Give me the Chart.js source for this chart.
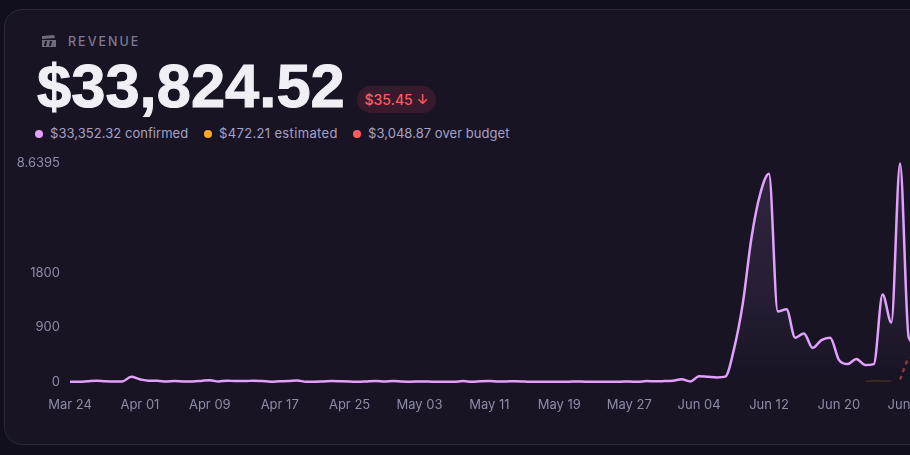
<!DOCTYPE html>
<html>
<head>
<meta charset="utf-8">
<title>Revenue</title>
<script src="https://cdn.jsdelivr.net/npm/chart.js@4/dist/chart.umd.min.js"></script>
<style>
  html, body { margin: 0; width: 910px; height: 455px; overflow: hidden; background: #110e1e; font-family: Inter, sans-serif; }
  .card { position: absolute; left: 4px; top: 9px; width: 1100px; height: 434px; background: #181424; border: 1px solid #2c2938; border-radius: 18px; }
  .title { position: absolute; left: 68px; top: 34px; font-size: 12.5px; font-weight: 500; letter-spacing: 2px; color: #7d7893; line-height: 16px; }
  .icon { position: absolute; left: 42px; top: 35px; }
  .total { position: absolute; left: 37px; top: 51px; font-family: "Liberation Sans", sans-serif; font-size: 61.5px; font-weight: 700; -webkit-text-stroke: 1px #f1eff6; line-height: 70px; color: #f1eff6; white-space: nowrap; }
  .badge { position: absolute; left: 357px; top: 86px; height: 27px; width: 79px; border-radius: 14px; background: #371a2b; color: #ff5a5f; font-size: 14px; font-weight: 500; line-height: 27px; text-align: center; white-space: nowrap; }
  .legend { position: absolute; top: 125px; font-size: 13px; line-height: 17px; color: #a5a1c4; white-space: nowrap; }
  .legend i { position: absolute; left: -15px; top: 5px; width: 8px; height: 8px; border-radius: 50%; }
  #chart { position: absolute; left: 16px; top: 150px; }
</style>
</head>
<body>
<div class="card"></div>
<svg class="icon" width="14" height="12" viewBox="0 0 14 12"><path fill="#6f6b7c" d="M0 5h14v7H0zM0 1l12-1 1 3-13 1z"/><path fill="#181424" d="M3 6l2 0-1 5-2 0zM8 6l2 0-1 5-2 0z"/></svg>
<div class="title">REVENUE</div>
<div class="total">$33,824.52</div>
<div class="badge">$35.45 ↓</div>
<div class="legend" style="left:50px;letter-spacing:0.05px"><i style="background:#e3a1ff"></i>$33,352.32 confirmed</div>
<div class="legend" style="left:219px;letter-spacing:0.35px"><i style="background:#f9a825"></i>$472.21 estimated</div>
<div class="legend" style="left:368px;letter-spacing:0.05px"><i style="background:#ff5a5f"></i>$3,048.87 over budget</div>
<canvas id="chart" width="926" height="276"></canvas>
<script>
const days = [
  "Mar 24","Mar 25","Mar 26","Mar 27","Mar 28","Mar 29","Mar 30","Mar 31",
  "Apr 01","Apr 02","Apr 03","Apr 04","Apr 05","Apr 06","Apr 07","Apr 08",
  "Apr 09","Apr 10","Apr 11","Apr 12","Apr 13","Apr 14","Apr 15","Apr 16",
  "Apr 17","Apr 18","Apr 19","Apr 20","Apr 21","Apr 22","Apr 23","Apr 24",
  "Apr 25","Apr 26","Apr 27","Apr 28","Apr 29","Apr 30","May 01","May 02",
  "May 03","May 04","May 05","May 06","May 07","May 08","May 09","May 10",
  "May 11","May 12","May 13","May 14","May 15","May 16","May 17","May 18",
  "May 19","May 20","May 21","May 22","May 23","May 24","May 25","May 26",
  "May 27","May 28","May 29","May 30","May 31","Jun 01","Jun 02","Jun 03",
  "Jun 04","Jun 05","Jun 06","Jun 07","Jun 08","Jun 09","Jun 10","Jun 11",
  "Jun 12","Jun 13","Jun 14","Jun 15","Jun 16","Jun 17","Jun 18","Jun 19",
  "Jun 20","Jun 21","Jun 22","Jun 23","Jun 24","Jun 25","Jun 26","Jun 27",
  "Jun 28","Jun 29","Jun 30","Jul 01"
];
const confirmed = [
  5,5,12,20,12,8,10,85,45,20,20,8,15,10,10,18,
  30,8,22,15,15,22,15,6,12,15,25,3,5,10,15,12,
  8,3,10,15,8,15,8,5,8,8,3,3,5,15,5,12,
  15,8,10,12,8,3,3,5,5,3,10,5,5,5,5,5,
  8,3,15,12,15,20,45,10,95,85,75,88,545,1290,2380,3100,
  3430,1160,1200,730,800,560,690,730,365,295,380,280,295,1440,980,3600,
  730,620,540,480
];
const estimated = [
  null,null,null,null,null,null,null,null,null,null,null,null,null,null,null,null,
  null,null,null,null,null,null,null,null,null,null,null,null,null,null,null,null,
  null,null,null,null,null,null,null,null,null,null,null,null,null,null,null,null,
  null,null,null,null,null,null,null,null,null,null,null,null,null,null,null,null,
  null,null,null,null,null,null,null,null,null,null,null,null,null,null,null,null,
  null,null,null,null,null,null,null,null,null,null,null,8,20,15,10,null,
  null,null,null,null
];
const overBudget = [
  null,null,null,null,null,null,null,null,null,null,null,null,null,null,null,null,
  null,null,null,null,null,null,null,null,null,null,null,null,null,null,null,null,
  null,null,null,null,null,null,null,null,null,null,null,null,null,null,null,null,
  null,null,null,null,null,null,null,null,null,null,null,null,null,null,null,null,
  null,null,null,null,null,null,null,null,null,null,null,null,null,null,null,null,
  null,null,null,null,null,null,null,null,null,null,null,null,null,null,null,40,
  380,420,400,380
];
const yTicks = [0, 900, 1800, 3598.6395];
const xTickEvery = 8;

const canvas = document.getElementById('chart');

function areaFill(ctx) {
  const area = ctx.chart.chartArea;
  if (!area) return 'transparent';
  const g = ctx.chart.ctx.createLinearGradient(0, area.top, 0, area.bottom);
  g.addColorStop(0, 'rgba(227,161,255,0.12)');
  g.addColorStop(0.6, 'rgba(227,161,255,0.07)');
  g.addColorStop(1, 'rgba(227,161,255,0)');
  return g;
}

new Chart(canvas.getContext('2d'), {
  type: 'line',
  data: {
    labels: days,
    datasets: [
      { label: 'over budget', data: overBudget, borderColor: 'rgba(255,90,95,0.5)', borderWidth: 2.5, borderDash: [4, 4], pointRadius: 0, cubicInterpolationMode: 'monotone', fill: false },
      { label: 'estimated', data: estimated, borderColor: 'rgba(249,168,37,0.14)', borderWidth: 2, pointRadius: 0, cubicInterpolationMode: 'monotone', fill: false },
      { label: 'confirmed', data: confirmed, borderColor: '#e3a1ff', borderWidth: 2.5, pointRadius: 0, cubicInterpolationMode: 'monotone', fill: 'origin', backgroundColor: areaFill, clip: false }
    ]
  },
  options: {
    responsive: false,
    animation: false,
    devicePixelRatio: 1,
    layout: { padding: { top: 13.5, bottom: 0, left: 0, right: 0 } },
    plugins: { legend: { display: false }, tooltip: { enabled: false } },
    scales: {
      x: {
        grid: { display: false },
        border: { display: false },
        ticks: {
          color: '#8f8ba6',
          font: { family: 'Inter', size: 13 },
          autoSkip: false,
          maxRotation: 0,
          padding: 7,
          callback(value, index) { return index % xTickEvery === 0 ? days[index] : ''; }
        },
        afterFit(scale) { scale.height = 44; }
      },
      y: {
        min: 0,
        max: 3598.6395,
        grid: { display: false },
        border: { display: false },
        afterBuildTicks(scale) { scale.ticks = yTicks.map(v => ({ value: v })); },
        afterFit(scale) { scale.width = 54; },
        ticks: {
          color: '#8f8ba6',
          font: { family: 'Inter', size: 13 },
          padding: 2,
          callback(value) { return String(value); }
        }
      }
    }
  }
});
</script>
</body>
</html>
